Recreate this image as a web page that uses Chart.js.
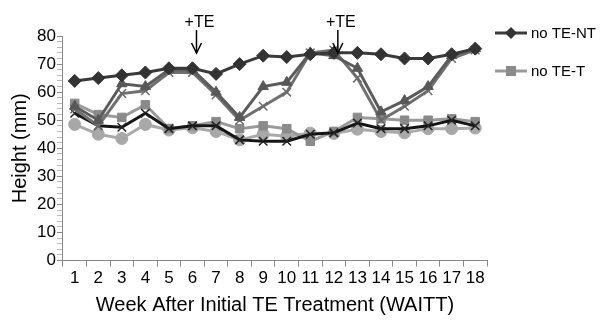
<!DOCTYPE html>
<html><head><meta charset="utf-8">
<script src="https://cdn.jsdelivr.net/npm/chart.js@4/dist/chart.umd.min.js"></script>
<style>html,body{margin:0;padding:0;background:#fff}#wrap{width:600px;height:327px}</style>
</head><body><div id="wrap"><canvas id="c" width="600" height="327"></canvas></div>
<script>
const weeks = ['1','2','3','4','5','6','7','8','9','10','11','12','13','14','15','16','17','18'];
const noTE_NT = [64,65,66,67,68.5,68.5,66.5,70,73,72.5,73.5,74,74,73.5,72,72,73.5,75.5];
const noTE_T  = [56,52,51,55.5,47,48,49.5,47,48,47,42.5,46,51,50.5,50,50,50.5,49.5];
const triSeries = [55,50,63,62,68,68,60,51,62,63.5,74,73,68.5,53,57,62,73,75.5];
const xSeries   = [54,48,59.5,60.5,67,67,59,50,55,60,74,75,65,50,55,60.5,72,75];
const blackSeries = [52.5,48,47.5,52.5,47,48,48,43,42.5,42.5,45,45.5,49,47,47,48,50,48];
const circleSeries = [48.5,45,43.5,48.5,46.5,47.3,46,43,45,44.3,45.4,45.3,46.8,46,45.5,47,47,47.2];
const yTicksMajor = [0,10,20,30,40,50,60,70,80];
const treatWeeks = ['6','12'];
const treatLabel = '+TE';
const legendNames = ['no TE-NT','no TE-T'];

const FONT = "'Liberation Sans', Arial, sans-serif";

const annot = {
  id:'annot',
  afterDraw(chart){
    const ctx = chart.ctx, xs = chart.scales.x, ca = chart.chartArea;
    ctx.save();
    ctx.fillStyle = '#000'; ctx.strokeStyle = '#000'; ctx.lineWidth = 1.5;
    ctx.font = '16px ' + FONT; ctx.textAlign = 'center'; ctx.textBaseline = 'alphabetic';
    treatWeeks.forEach(w => {
      const x = xs.getPixelForValue(weeks.indexOf(w)) + 4;
      ctx.fillText(treatLabel, x + 3, ca.top - 9);
      ctx.beginPath(); ctx.moveTo(x, ca.top - 6); ctx.lineTo(x, ca.top + 17); ctx.stroke();
      ctx.beginPath(); ctx.moveTo(x - 5, ca.top + 7); ctx.lineTo(x, ca.top + 17); ctx.lineTo(x + 5, ca.top + 7); ctx.stroke();
    });
    // legend
    const ds = chart.data.datasets;
    legendNames.forEach((name, i) => {
      const d = ds[i];
      const y = ca.top - 3 + i * 38;
      const lx = ca.right + 8;
      ctx.strokeStyle = d.borderColor; ctx.lineWidth = 3;
      ctx.beginPath(); ctx.moveTo(lx, y); ctx.lineTo(lx + 32, y); ctx.stroke();
      ctx.fillStyle = d.pointBackgroundColor;
      if (d.pointStyle === 'rectRot') {
        ctx.beginPath(); ctx.moveTo(lx+16, y-6); ctx.lineTo(lx+22, y); ctx.lineTo(lx+16, y+6); ctx.lineTo(lx+10, y); ctx.closePath(); ctx.fill();
      } else {
        ctx.fillRect(lx+11, y-5, 10, 10);
      }
      ctx.fillStyle = '#000'; ctx.font = '15px ' + FONT; ctx.textAlign = 'left'; ctx.textBaseline = 'middle';
      ctx.fillText(name, lx + 36, y + 1);
    });
    ctx.restore();
  }
};

function ds(label, data, color, pcolor, style, radius, order){
  return {label, data, borderColor:color, backgroundColor:pcolor, pointBackgroundColor:pcolor,
    pointBorderColor:pcolor, pointStyle:style, pointRadius:radius, pointBorderWidth: (style==='crossRot'?1.5:1),
    borderWidth:3, tension:0, order};
}

new Chart(document.getElementById('c'), {
  type:'line',
  data:{labels:weeks, datasets:[
    ds('no TE-NT', noTE_NT, '#3a3a3a', '#333333', 'rectRot', 6.5, 0),
    ds('no TE-T', noTE_T, '#9a9a9a', '#8a8a8a', 'rect', 6, 4),
    ds('TE-T tri', triSeries, '#5c5c5c', '#585858', 'triangle', 6, 1),
    ds('TE-NT x', xSeries, '#707070', '#6a6a6a', 'crossRot', 6, 2),
    ds('ctl', blackSeries, '#151515', '#222222', 'crossRot', 6, 3),
    ds('circ', circleSeries, '#aaaaaa', '#a8a8a8', 'circle', 6, 5)
  ]},
  plugins:[annot],
  options:{
    responsive:false, animation:false,
    layout:{padding:{top:36, right:113, left:4, bottom:6}},
    plugins:{legend:{display:false}, tooltip:{enabled:false}},
    scales:{
      x:{offset:true,
        grid:{display:true, drawOnChartArea:false, offset:true, tickLength:6, color:'#888'},
        border:{color:'#888', width:1},
        ticks:{color:'#000', font:{family:FONT, size:17}, padding:2, maxRotation:0, autoSkip:false},
        title:{display:true, text:'Week After Initial TE Treatment (WAITT)', color:'#000', font:{family:FONT, size:20}, padding:{top:2}}
      },
      y:{min:0, max:80,
        grid:{drawOnChartArea:false, tickLength:6, color:(c)=> (c.tick && yTicksMajor.includes(c.tick.value)) ? '#888' : '#bbb'},
        border:{color:'#888', width:1},
        ticks:{stepSize:2, autoSkip:false, color:'#000', font:{family:FONT, size:17}, padding:1,
          callback:(v)=> yTicksMajor.includes(v) ? String(v) : ''},
        title:{display:true, text:'Height (mm)', color:'#000', font:{family:FONT, size:20}, padding:{bottom:4}}
      }
    }
  }
});
</script></body></html>
